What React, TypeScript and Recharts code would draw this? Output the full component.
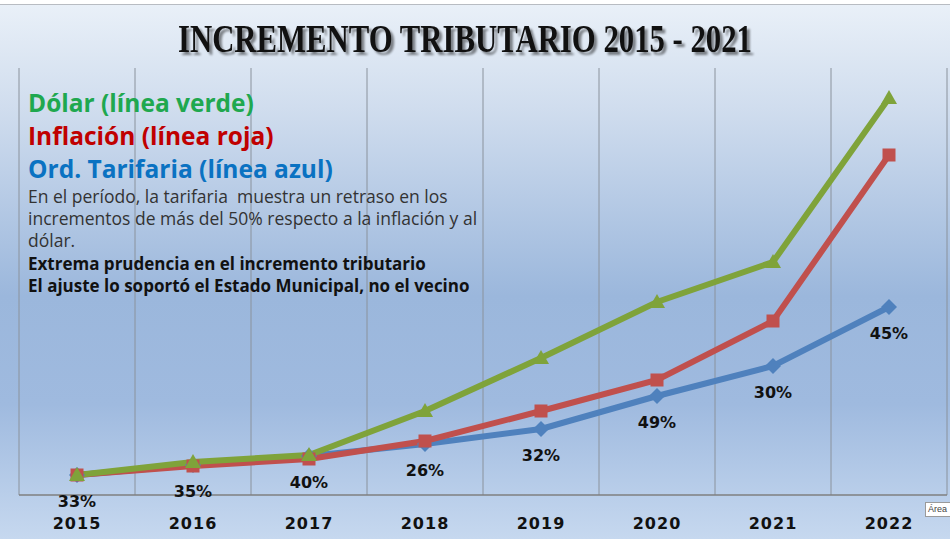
import React from 'react';
import { LineChart, Line, XAxis, YAxis, CartesianGrid, LabelList } from 'recharts';

const years = ['2015', '2016', '2017', '2018', '2019', '2020', '2021', '2022'];
// index values (2015 = 100)
const tarifaria = [100, 150, 195, 255, 330, 495, 645, 940];
const inflacion = [100, 145, 180, 270, 420, 575, 870, 1700];
const dolar = [100, 165, 200, 420, 685, 965, 1165, 1985];
const tarifariaLabels = ['33%', '35%', '40%', '26%', '32%', '49%', '30%', '45%'];

const data = years.map((year, i) => ({
  year,
  tarifaria: tarifaria[i],
  inflacion: inflacion[i],
  dolar: dolar[i],
  label: tarifariaLabels[i],
}));

const BLUE = '#4F81BD';
const RED = '#C0504D';
const GREEN = '#7FA33A';

const Diamond = (props: any) => {
  const { cx, cy } = props;
  if (cx == null || cy == null) return null;
  const r = 8;
  return <path d={`M${cx},${cy - r}L${cx + r},${cy}L${cx},${cy + r}L${cx - r},${cy}Z`} fill={BLUE} />;
};

const Square = (props: any) => {
  const { cx, cy } = props;
  if (cx == null || cy == null) return null;
  return <rect x={cx - 6.5} y={cy - 6.5} width={13} height={13} fill={RED} />;
};

const Triangle = (props: any) => {
  const { cx, cy } = props;
  if (cx == null || cy == null) return null;
  return <path d={`M${cx},${cy - 8}L${cx + 8},${cy + 6}L${cx - 8},${cy + 6}Z`} fill={GREEN} />;
};

const YearTick = (props: any) => {
  const { x, y, payload } = props;
  return (
    <text
      x={x}
      y={y + 34}
      textAnchor="middle"
      fontFamily="DejaVu Sans"
      fontWeight="bold"
      fontSize={16}
      letterSpacing={1}
      fill="#111"
    >
      {payload.value}
    </text>
  );
};

const PctLabel = (props: any) => {
  const { x, y, value } = props;
  return (
    <text
      x={x}
      y={y + 32}
      textAnchor="middle"
      fontFamily="DejaVu Sans"
      fontWeight="bold"
      fontSize={16}
      fill="#111"
    >
      {value}
    </text>
  );
};

const textLine = (top: number, size: number, color: string, bold: boolean, text: string) => (
  <div
    style={{
      position: 'absolute',
      left: 28,
      top,
      fontFamily: '"Open Sans"',
      fontSize: size,
      fontWeight: bold ? 700 : 400,
      color,
      whiteSpace: 'pre',
      lineHeight: 1,
    }}
  >
    {text}
  </div>
);

export default function App() {
  return (
    <div
      style={{
        position: 'absolute',
        left: 0,
        top: 0,
        width: 950,
        height: 539,
        background:
          'linear-gradient(to bottom, #ffffff 0px, #ffffff 4px, #b8bcc2 4px, #b8bcc2 5px, #e9f0f8 5px, #d0ddee 20%, #9bb7dc 55%, #9fbadf 75%, #c6d8ef 100%)',
        overflow: 'hidden',
      }}
    >
      <LineChart width={950} height={539} data={data} margin={{ top: 68, right: 3, left: 19, bottom: 0 }}>
        <CartesianGrid
          horizontal={false}
          stroke="#8a929c"
          strokeWidth={1}
          verticalCoordinatesGenerator={({ offset }: any) =>
            Array.from({ length: 9 }, (_, i) => offset.left + (i * offset.width) / 8)
          }
        />
        <XAxis
          dataKey="year"
          scale="band"
          tickLine={false}
          tickSize={0}
          tickMargin={0}
          height={44}
          axisLine={{ stroke: '#7f7f7f', strokeWidth: 1.5 }}
          tick={<YearTick />}
          interval={0}
        />
        <YAxis hide domain={[0, 2135]} />
        <Line
          dataKey="tarifaria"
          stroke={BLUE}
          strokeWidth={6}
          dot={<Diamond />}
          activeDot={false}
          isAnimationActive={false}
        >
          <LabelList dataKey="label" content={<PctLabel />} />
        </Line>
        <Line
          dataKey="inflacion"
          stroke={RED}
          strokeWidth={6}
          dot={<Square />}
          activeDot={false}
          isAnimationActive={false}
        />
        <Line
          dataKey="dolar"
          stroke={GREEN}
          strokeWidth={6}
          dot={<Triangle />}
          activeDot={false}
          isAnimationActive={false}
        />
      </LineChart>

      <svg width={950} height={70} style={{ position: 'absolute', left: 0, top: 0 }}>
        <text
          x={465}
          y={52}
          textAnchor="middle"
          fontFamily="Liberation Serif"
          fontWeight="bold"
          fontSize={41}
          textLength={574}
          lengthAdjust="spacingAndGlyphs"
          fill="#111"
          style={{ filter: 'drop-shadow(3px 3px 1px rgba(0,0,0,0.45))' }}
        >
          INCREMENTO TRIBUTARIO 2015 - 2021
        </text>
      </svg>

      {textLine(91, 24.5, '#1FA84F', true, 'Dólar (línea verde)')}
      {textLine(124, 24.5, '#C00000', true, 'Inflación (línea roja)')}
      {textLine(157, 24.5, '#0A72C2', true, 'Ord. Tarifaria (línea azul)')}
      {textLine(188, 17.5, '#333', false, 'En el período, la tarifaria  muestra un retraso en los')}
      {textLine(210, 17.5, '#333', false, 'incrementos de más del 50% respecto a la inflación y al')}
      {textLine(232, 17.5, '#333', false, 'dólar.')}
      {textLine(255, 17, '#111', true, 'Extrema prudencia en el incremento tributario')}
      {textLine(277, 17, '#111', true, 'El ajuste lo soportó el Estado Municipal, no el vecino')}

      <div
        style={{
          position: 'absolute',
          left: 925,
          top: 502,
          width: 30,
          height: 13,
          background: '#fff',
          border: '1px solid #9a9a9a',
          fontFamily: '"Liberation Sans"',
          fontSize: 9,
          lineHeight: '13px',
          color: '#444',
          paddingLeft: 2,
        }}
      >
        Área
      </div>
    </div>
  );
}
